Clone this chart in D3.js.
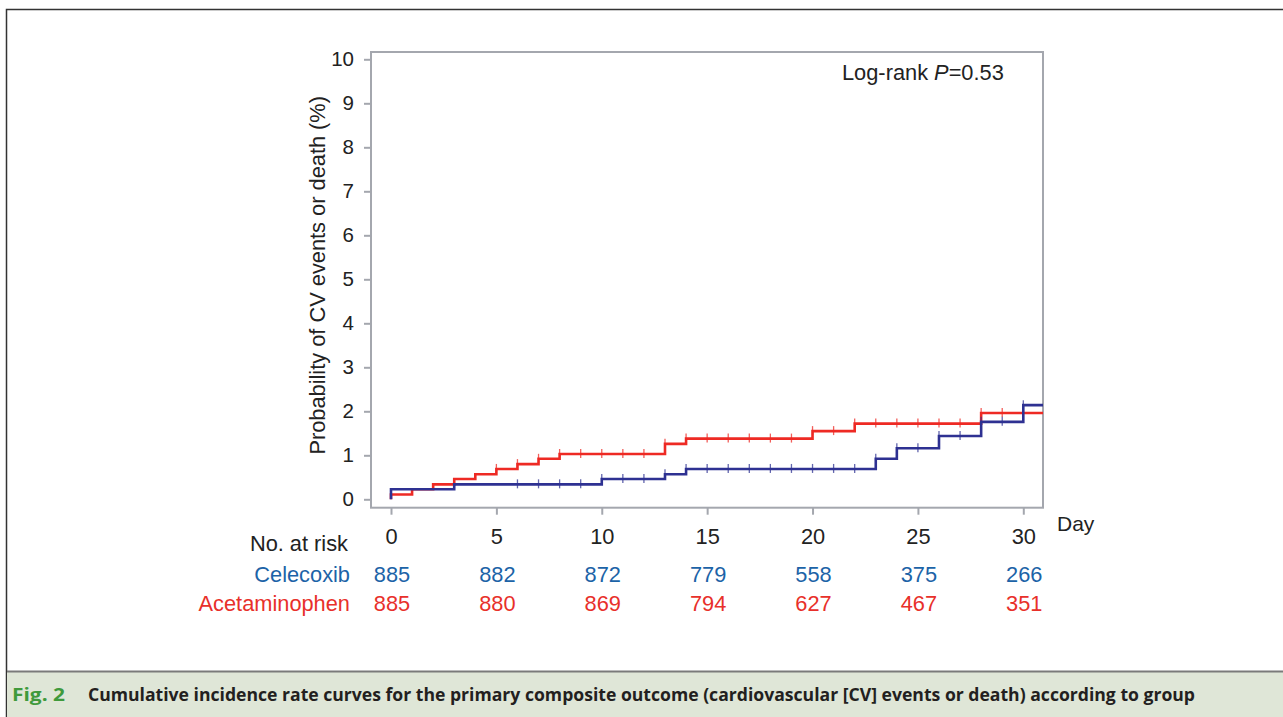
<!DOCTYPE html>
<html>
<head>
<meta charset="utf-8">
<script src="https://cdn.jsdelivr.net/npm/d3@7"></script>
<style>
  html, body { margin: 0; padding: 0; background: #fff; }
  svg { display: block; }
</style>
</head>
<body>
<div id="chart"></div>
<script>
// step points [day, cumulative %]
const celecoxibSteps = [[0, 0.23], [3, 0.34], [10, 0.46], [13, 0.57], [14, 0.69], [23, 0.92], [24, 1.16], [26, 1.44], [28, 1.76], [30, 2.14]];
const acetaminophenSteps = [[0, 0.11], [1, 0.23], [2, 0.34], [3, 0.46], [4, 0.57], [5, 0.69], [6, 0.80], [7, 0.92], [8, 1.03], [13, 1.26], [14, 1.38], [20, 1.55], [22, 1.72], [28, 1.96]];
// censor marks (days)
const celecoxibCensor = [6, 7, 8, 9, 10, 11, 12, 13, 14, 15, 16, 17, 18, 19, 20, 21, 22, 23, 24, 25, 26, 27, 28, 29, 30];
const acetaminophenCensor = [5, 6, 7, 8, 9, 10, 11, 12, 13, 14, 15, 16, 17, 18, 19, 20, 21, 22, 23, 24, 25, 26, 27, 28, 29];

const xTicks = [0, 5, 10, 15, 20, 25, 30];
const yTicks = [0, 1, 2, 3, 4, 5, 6, 7, 8, 9, 10];
const atRiskDays = [0, 5, 10, 15, 20, 25, 30];
const celecoxibAtRisk = [885, 882, 872, 779, 558, 375, 266];
const acetaminophenAtRisk = [885, 880, 869, 794, 627, 467, 351];

const width = 1283, height = 717;
const fontFam = "'Liberation Sans', Arial, sans-serif";
const fs = 21.8, tickFs = 20.5;
const blueLine = "#2e3192", redLine = "#ee2a24";
const blueText = "#1c63a7", redText = "#e8302a";

(() => {
    const svg = d3.select("#chart").append("svg")
        .attr("width", width)
        .attr("height", height)
        .attr("viewBox", [0, 0, width, height])
        .style("font-family", fontFam);

    svg.append("rect").attr("width", width).attr("height", height).attr("fill", "#fff");

    // outer figure frame (top + left)
    svg.append("path")
        .attr("d", `M${width},9.5H6.5V${height}`)
        .attr("fill", "none")
        .attr("stroke", "#333")
        .attr("stroke-width", 1.5);

    // caption band
    svg.append("rect")
        .attr("x", 7).attr("y", 671)
        .attr("width", width - 7).attr("height", height - 671)
        .attr("fill", "#dfe6d7");
    svg.append("line")
        .attr("x1", 7).attr("x2", width)
        .attr("y1", 671.5).attr("y2", 671.5)
        .attr("stroke", "#7a7a7a")
        .attr("stroke-width", 2);
    svg.append("text")
        .attr("x", 12).attr("y", 701)
        .attr("font-family", "'Open Sans', sans-serif")
        .attr("font-weight", 700)
        .attr("font-size", 18)
        .attr("fill", "#3f9a3c")
        .attr("textLength", 53)
        .attr("lengthAdjust", "spacingAndGlyphs")
        .text("Fig. 2");
    svg.append("text")
        .attr("x", 88).attr("y", 701)
        .attr("font-family", "'Open Sans', sans-serif")
        .attr("font-weight", 700)
        .attr("font-size", 18)
        .attr("fill", "#231f20")
        .attr("textLength", 1107)
        .attr("lengthAdjust", "spacingAndGlyphs")
        .text("Cumulative incidence rate curves for the primary composite outcome (cardiovascular [CV] events or death) according to group");

    // scales
    const x = d3.scaleLinear().domain([0, 30]).range([391, 1023.3]);
    const y = d3.scaleLinear().domain([0, 10]).range([499.3, 59.3]);
    const xMin = x.invert(371), xMax = x.invert(1043);
    const yMin = y.invert(507.7), yMax = y.invert(52);

    // plot frame
    svg.append("rect")
        .attr("x", x(xMin)).attr("y", y(yMax))
        .attr("width", x(xMax) - x(xMin))
        .attr("height", y(yMin) - y(yMax))
        .attr("fill", "none")
        .attr("stroke", "#a4a7ae")
        .attr("stroke-width", 2);

    // y axis
    const yAxis = svg.append("g")
        .attr("transform", `translate(${x(xMin)},0)`)
        .call(d3.axisLeft(y).tickValues(yTicks).tickSize(7).tickPadding(10));
    yAxis.select(".domain").remove();
    yAxis.selectAll(".tick line").attr("stroke", "#a4a7ae").attr("stroke-width", 2);
    yAxis.selectAll(".tick text")
        .attr("font-family", fontFam)
        .attr("font-size", tickFs)
        .attr("fill", "#222");

    // x axis
    const xAxis = svg.append("g")
        .attr("transform", `translate(0,${y(yMin)})`)
        .call(d3.axisBottom(x).tickValues(xTicks).tickSize(7).tickPadding(14));
    xAxis.select(".domain").remove();
    xAxis.selectAll(".tick line").attr("stroke", "#a4a7ae").attr("stroke-width", 2);
    xAxis.selectAll(".tick text")
        .attr("font-family", fontFam)
        .attr("font-size", fs)
        .attr("fill", "#222");

    svg.append("text")
        .attr("x", 1057).attr("y", 531)
        .attr("font-size", 21)
        .attr("fill", "#222")
        .text("Day");

    // y label
    svg.append("text")
        .attr("transform", `translate(325,${(y(0) + y(10)) / 2 - 4}) rotate(-90)`)
        .attr("text-anchor", "middle")
        .attr("font-size", fs)
        .attr("fill", "#222")
        .text("Probability of CV events or death (%)");

    // log-rank annotation
    const lr = svg.append("text")
        .attr("x", 842).attr("y", 80)
        .attr("font-size", fs)
        .attr("fill", "#222");
    lr.append("tspan").text("Log-rank ");
    lr.append("tspan").attr("font-style", "italic").text("P");
    lr.append("tspan").text("=0.53");

    // curves
    const line = d3.line()
        .x(d => x(d[0]))
        .y(d => y(d[1]))
        .curve(d3.curveStepAfter);

    const valueAt = (steps, day) => {
        let v = 0;
        steps.forEach(s => { if (s[0] <= day) v = s[1]; });
        return v;
    };

    const series = [
        { steps: acetaminophenSteps, censor: acetaminophenCensor, color: redLine },
        { steps: celecoxibSteps, censor: celecoxibCensor, color: blueLine }
    ];

    series.forEach(s => {
        const pts = [[0, 0]].concat(s.steps).concat([[xMax, s.steps[s.steps.length - 1][1]]]);
        svg.append("path")
            .datum(pts)
            .attr("fill", "none")
            .attr("stroke", s.color)
            .attr("stroke-width", 2.6)
            .attr("d", line);
        svg.append("g")
            .selectAll("line")
            .data(s.censor)
            .join("line")
                .attr("x1", d => x(d)).attr("x2", d => x(d))
                .attr("y1", d => y(valueAt(s.steps, d)) - 5)
                .attr("y2", d => y(valueAt(s.steps, d)) + 4)
                .attr("stroke", s.color)
                .attr("stroke-opacity", 0.75)
                .attr("stroke-width", 1.3);
    });

    // number at risk table
    svg.append("text")
        .attr("x", 348).attr("y", 551)
        .attr("text-anchor", "end")
        .attr("font-size", fs)
        .attr("fill", "#222")
        .text("No. at risk");

    const rows = [
        { label: "Celecoxib", values: celecoxibAtRisk, color: blueText, yPos: 582 },
        { label: "Acetaminophen", values: acetaminophenAtRisk, color: redText, yPos: 611 }
    ];

    rows.forEach(r => {
        svg.append("text")
            .attr("x", 350).attr("y", r.yPos)
            .attr("text-anchor", "end")
            .attr("font-size", fs)
            .attr("fill", r.color)
            .text(r.label);
        svg.append("g")
            .selectAll("text")
            .data(r.values)
            .join("text")
                .attr("x", (d, i) => x(atRiskDays[i]) + 1)
                .attr("y", r.yPos)
                .attr("text-anchor", "middle")
                .attr("font-size", fs)
                .attr("fill", r.color)
                .text(d => d);
    });
})();
</script>
</body>
</html>
